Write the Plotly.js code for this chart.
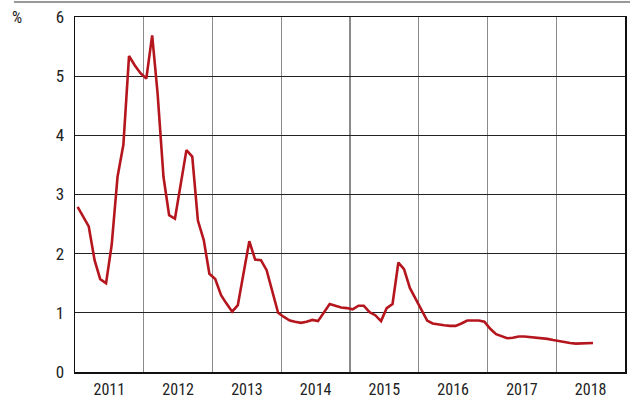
<!DOCTYPE html>
<html>
<head>
<meta charset="utf-8">
<script src="https://cdn.plot.ly/plotly-3.0.1.min.js"></script>
<style>html,body{margin:0;padding:0;background:#fff}#chart{width:630px;height:400px}</style>
</head>
<body>
<div id="chart"></div>
<script>
// Monthly series, January 2011 to July 2018 (percent)
const startYear = 2011;
const startMonth = 1;
const values = [
  2.79, 2.62, 2.46, 1.89, 1.57, 1.50, 2.15, 3.30, 3.84, 5.34, 5.18, 5.05,
  4.96, 5.69, 4.70, 3.30, 2.65, 2.59, 3.17, 3.75, 3.64, 2.56, 2.23, 1.66,
  1.57, 1.30, 1.16, 1.02, 1.13, 1.67, 2.21, 1.90, 1.89, 1.72, 1.36, 1.00,
  0.93, 0.87, 0.85, 0.83, 0.85, 0.88, 0.86, 1.00, 1.15, 1.12, 1.09, 1.08,
  1.06, 1.12, 1.12, 1.01, 0.96, 0.86, 1.08, 1.15, 1.85, 1.74, 1.42, 1.24,
  1.06, 0.87, 0.82, 0.80, 0.79, 0.78, 0.78, 0.82, 0.87, 0.87, 0.87, 0.85,
  0.73, 0.64, 0.61, 0.57, 0.58, 0.60, 0.60, 0.59, 0.59, 0.58, 0.56, 0.54,
  0.52, 0.50, 0.49, 0.48, 0.48, 0.48, 0.49
];
const yTicks = [0, 1, 2, 3, 4, 5, 6];
const yTickLabels = ['0', '1', '2', '3', '4', '5', '6'];
const unitLabel = '%';

const dates = values.map((v, i) => {
  const m = startMonth - 1 + i;
  const y = startYear + Math.floor(m / 12);
  const mm = String((m % 12) + 1).padStart(2, '0');
  return y + '-' + mm + '-15';
});

const FONT = '"Liberation Sans Narrow", "Arial Narrow", "Roboto Condensed", sans-serif';

const trace = {
  x: dates, y: values, type: 'scatter', mode: 'lines',
  line: {color: '#b5161e', width: 2.6},
  hoverinfo: 'skip'
};

const layout = {
  width: 630, height: 400,
  margin: {l: 75, r: 5, t: 17, b: 28},
  paper_bgcolor: '#ffffff', plot_bgcolor: '#ffffff',
  showlegend: false,
  font: {family: FONT, size: 16, color: '#222'},
  xaxis: {
    type: 'date',
    range: ['2011-01-01', '2019-01-01'],
    tick0: '2011-01-01', dtick: 'M12',
    tickformat: '%Y',
    ticklabelmode: 'period',
    ticks: '', showgrid: true, gridcolor: '#8a8a8a', gridwidth: 1.5,
    showline: true, linecolor: '#111', linewidth: 1.5, mirror: true,
    zeroline: false,
    ticklabelstandoff: 2,
    tickfont: {family: FONT, size: 16, color: '#222'},
    fixedrange: true
  },
  yaxis: {
    range: [0, 6],
    tickvals: yTicks, ticktext: yTickLabels,
    ticks: '', showgrid: true, gridcolor: '#222', gridwidth: 1,
    showline: true, linecolor: '#111', linewidth: 1.5, mirror: true,
    zeroline: false,
    ticklabelstandoff: 6,
    tickfont: {family: FONT, size: 17, color: '#222'},
    fixedrange: true
  },
  annotations: [{
    text: unitLabel, xref: 'paper', yref: 'paper',
    x: -0.093, y: 1.0, xanchor: 'right', yanchor: 'middle',
    showarrow: false, font: {family: FONT, size: 16, color: '#222'}
  }],
  shapes: [{
    type: 'line', xref: 'paper', yref: 'paper',
    x0: -0.111, x1: 1.01, y0: 1.042, y1: 1.042,
    line: {color: '#777', width: 1.5}
  }]
};

Plotly.newPlot('chart', [trace], layout, {displayModeBar: false, staticPlot: true});
</script>
</body>
</html>
